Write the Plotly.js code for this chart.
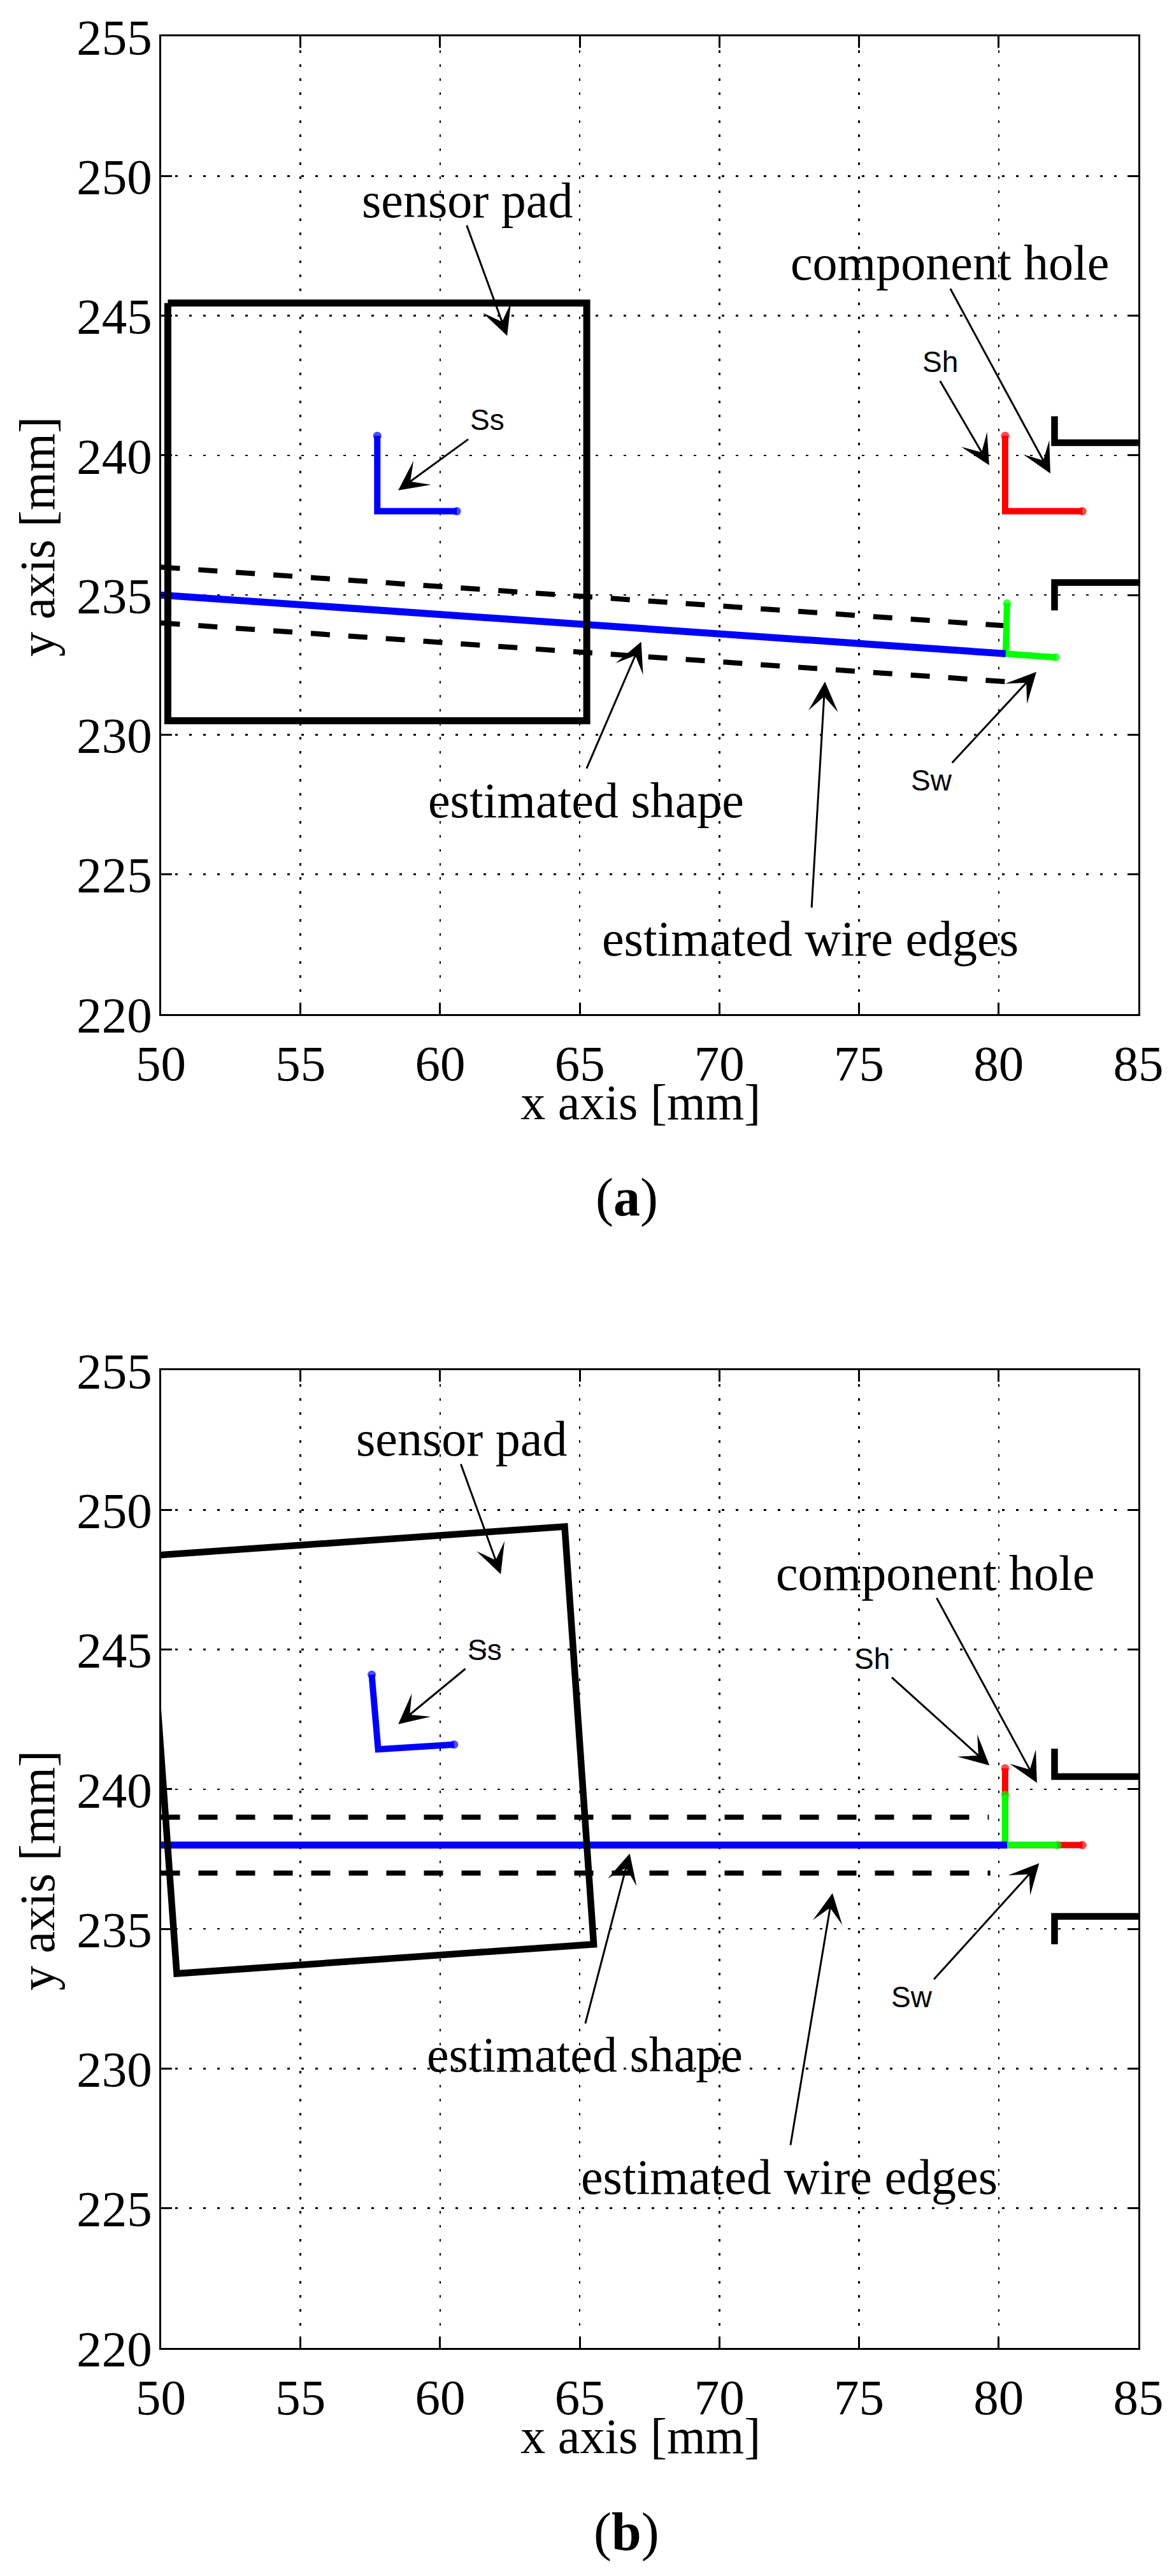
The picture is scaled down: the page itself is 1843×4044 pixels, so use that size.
<!DOCTYPE html>
<html><head><meta charset="utf-8">
<script src="https://cdn.plot.ly/plotly-3.0.0.min.js"></script>
<style>html,body{margin:0;padding:0;background:#fff}</style></head>
<body><div id="chart" style="width:1843px;height:4044px"></div>
<script>
// tick labels
const xTicks = [50,55,60,65,70,75,80,85];
const yTicks = [220,225,230,235,240,245,250,255];
const xRange = [50,85], yRange = [220,255];

// panel (a) geometry, mm
const padAx = [50.25,65.25,65.25,50.25,50.25], padAy = [245.45,245.45,230.5,230.5,245.45];
const wireAx = [50,80.25], wireAy = [235,232.9];
const edgeUpAx = [50,80.25], edgeUpAy = [236,233.9];
const edgeLoAx = [50,80.25], edgeLoAy = [234,231.9];
const ssAx = [57.75,57.75,60.6], ssAy = [240.7,238,238];
const shAx = [80.23,80.23,83], shAy = [240.7,238,238];
const swAx = [80.3,80.25,82.05], swAy = [234.7,232.9,232.77];
const holeUpAx = [82,82,85], holeUpAy = [241.4,240.45,240.45];
const holeLoAx = [82,82,85], holeLoAy = [234.45,235.45,235.45];

// panel (b) geometry
const padBx = [49.5,64.46,65.5,50.57,49.5], padBy = [248.35,249.4,234.45,233.4,248.35];
const wireBx = [50,80.3], wireBy = [238,238];
const edgeUpBx = [50,79.65], edgeUpBy = [239,239];
const edgeLoBx = [50,79.7], edgeLoBy = [237,237];
const ssBx = [57.55,57.78,60.5], ssBy = [244.1,241.43,241.6];
const shBx = [80.23,80.23,83], shBy = [240.75,238,238];
const swBx = [80.23,80.23,82.1], swBy = [239.8,238,238];
const holeUpBx = [82,82,85], holeUpBy = [241.45,240.45,240.45];
const holeLoBx = [82,82,85], holeLoBy = [234.45,235.45,235.45];

// labels
const bigLabels = ['sensor pad','component hole','estimated shape','estimated wire edges'];
const smallLabels = ['Ss','Sh','Sw'];
const bigAx = [60.96,78.25,65.22,73.25], bigAy = [249.14,246.9,227.66,222.7];
const bigBx = [60.76,77.73,65.17,72.5], bigBy = [252.54,247.73,230.49,226.12];
const smallAx = [61.68,77.9,77.6], smallAy = [241.27,243.35,228.37];
const smallBx = [61.6,75.47,76.88], smallBy = [244.98,244.68,232.57];

// arrows: tail then head, same order as the labels above
const arrowAtailX = [60.94,78.25,65.23,73.3,61.04,77.88,78.3];
const arrowAtailY = [248.27,246.0,228.76,223.78,240.6,242.7,228.96];
const arrowAheadX = [62.4,81.85,67.2,73.78,58.5,79.66,81.35];
const arrowAheadY = [244.28,239.35,233.33,231.9,238.75,239.65,232.25];
const arrowBtailX = [60.73,77.76,65.19,72.54,60.94,76.14,77.65];
const arrowBtailY = [251.67,246.88,231.58,227.23,244.34,244.03,233.16];
const arrowBheadX = [62.17,81.37,66.79,74.05,58.5,79.67,81.45];
const arrowBheadY = [247.7,240.23,237.7,236.28,242.33,240.85,237.35];

const SERIF = '"Liberation Serif","Times New Roman",serif';
const SANS = '"Liberation Sans",Arial,sans-serif';
const W = 1843, H = 4044;
const L = 252.5, R = 1787, TA = 57, BA = 1592, TB = 2151, BB = 3686;

function line(x,y,color,width,ax,opts){
  return Object.assign({type:'scatter',mode:'lines',x:x,y:y,xaxis:'x'+ax,yaxis:'y'+ax,
    showlegend:false,hoverinfo:'skip',line:{color:color,width:width}},opts||{});
}
function dashed(x,y,ax){ return line(x,y,'#000',8,ax,{line:{color:'#000',width:8,dash:'30px,29px'}}); }
function frame(x,y,color,ax){
  return line(x,y,color,10,ax,{mode:'lines+markers',marker:{color:color,size:[13,0,13],symbol:'circle',line:{width:0}}});
}
const traces = [
  dashed(edgeUpAx,edgeUpAy,''), dashed(edgeLoAx,edgeLoAy,''),
  frame(shAx,shAy,'#ff0000',''), frame(swAx,swAy,'#00ff00',''),
  line(wireAx,wireAy,'#0000ff',11,''),
  line(padAx,padAy,'#000',11,''),
  frame(ssAx,ssAy,'#0000ff',''),
  line(holeUpAx,holeUpAy,'#000',10.5,''), line(holeLoAx,holeLoAy,'#000',10.5,''),

  dashed(edgeUpBx,edgeUpBy,'2'), dashed(edgeLoBx,edgeLoBy,'2'),
  frame(shBx,shBy,'#ff0000','2'), frame(swBx,swBy,'#00ff00','2'),
  line(wireBx,wireBy,'#0000ff',11,'2'),
  line(padBx,padBy,'#000',10.5,'2'),
  frame(ssBx,ssBy,'#0000ff','2'),
  line(holeUpBx,holeUpBy,'#000',10.5,'2'), line(holeLoBx,holeLoBy,'#000',10.5,'2')
];

function xaxis(anchor,titleText){
  return {domain:[L/W,R/W],range:xRange,tickmode:'array',tickvals:xTicks,ticktext:xTicks.map(String),anchor:anchor,
    showline:true,linecolor:'#000',linewidth:3,mirror:'ticks',ticks:'inside',ticklen:18,tickwidth:3,tickcolor:'#000',
    showgrid:true,gridcolor:'#000',gridwidth:2.5,griddash:'4px,18px',zeroline:false,
    tickangle:0,ticklabelstandoff:6,tickfont:{family:SERIF,size:79,color:'#000'},
    title:{text:titleText,font:{family:SERIF,size:78,color:'#000'},standoff:4},automargin:false};
}
function yaxis(anchor,top,bottom,titleText){
  return {domain:[1-bottom/H,1-top/H],range:yRange,tickmode:'array',tickvals:yTicks,ticktext:yTicks.map(String),anchor:anchor,
    showline:true,linecolor:'#000',linewidth:3,mirror:'ticks',ticks:'inside',ticklen:17,tickwidth:3,tickcolor:'#000',
    showgrid:true,gridcolor:'#000',gridwidth:2.5,griddash:'4px,18px',zeroline:false,
    ticklabelstandoff:-5,tickfont:{family:SERIF,size:79,color:'#000'},
    title:{text:titleText,font:{family:SERIF,size:78,color:'#000'},standoff:10},automargin:false};
}

const annotations = [];
function addLabels(texts,xs,ys,ax,family,size){
  texts.forEach((t,i)=>annotations.push({text:t,x:xs[i],y:ys[i],xref:'x'+ax,yref:'y'+ax,showarrow:false,
    xanchor:'center',yanchor:'middle',font:{family:family,size:size,color:'#000'}}));
}
function addArrows(tx,ty,hx,hy,ax){
  hx.forEach((v,i)=>annotations.push({text:'',x:v,y:hy[i],ax:tx[i],ay:ty[i],xref:'x'+ax,yref:'y'+ax,axref:'x'+ax,ayref:'y'+ax,
    showarrow:true,arrowhead:3,arrowsize:2.6,arrowwidth:3,arrowcolor:'#000',standoff:0}));
}
addArrows(arrowAtailX,arrowAtailY,arrowAheadX,arrowAheadY,'');
addArrows(arrowBtailX,arrowBtailY,arrowBheadX,arrowBheadY,'2');
addLabels(bigLabels,bigAx,bigAy,'',SERIF,78);
addLabels(bigLabels,bigBx,bigBy,'2',SERIF,78);
addLabels(smallLabels,smallAx,smallAy,'',SANS,46);
addLabels(smallLabels,smallBx,smallBy,'2',SANS,46);
annotations.push({text:'(<b>a</b>)',x:984/W,y:1-1880/H,xref:'paper',yref:'paper',showarrow:false,xanchor:'center',yanchor:'middle',font:{family:SERIF,size:84,color:'#000'}});
annotations.push({text:'(<b>b</b>)',x:984/W,y:1-3974.5/H,xref:'paper',yref:'paper',showarrow:false,xanchor:'center',yanchor:'middle',font:{family:SERIF,size:84,color:'#000'}});

const layout = {width:W,height:H,margin:{l:0,r:0,t:0,b:0},paper_bgcolor:'#fff',plot_bgcolor:'#fff',showlegend:false,
  xaxis:xaxis('y','x axis [mm]'),yaxis:yaxis('x',TA,BA,'y axis [mm]'),
  xaxis2:xaxis('y2','x axis [mm]'),yaxis2:yaxis('x2',TB,BB,'y axis [mm]'),
  annotations:annotations};

Plotly.newPlot('chart',traces,layout,{displayModeBar:false,staticPlot:true}).then(()=>{
  // the source figure has its axis titles slightly off the axis centre
  document.querySelectorAll('.xtitle,.x2title,.ytitle,.y2title').forEach(el=>{
    const isX = el.classList.contains('xtitle')||el.classList.contains('x2title');
    const t = isX ? 'translate(-14,-26) ' : 'translate(1,18) ';
    el.setAttribute('transform', t+(el.getAttribute('transform')||''));
  });
});
</script></body></html>
